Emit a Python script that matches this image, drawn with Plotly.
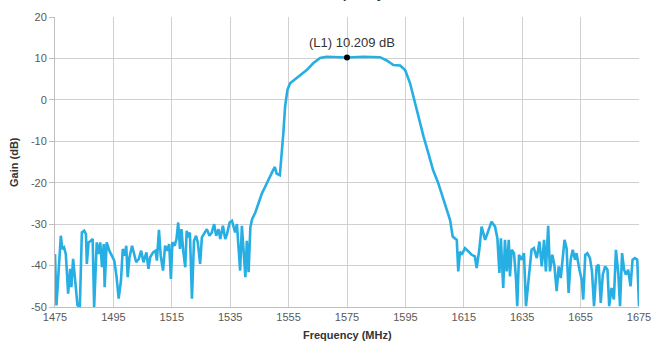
import plotly.graph_objects as go

# Frequency (MHz) and gain (dB)
freq = [
    1475.0, 1475.5, 1477.0, 1477.5, 1478.1, 1478.7, 1479.5, 1480.2, 1480.6, 1481.2,
    1481.9, 1482.7, 1483.5, 1484.2, 1485.0, 1485.6, 1485.9, 1486.5, 1487.3, 1487.9,
    1488.4, 1489.3, 1489.9, 1490.5, 1491.1, 1491.7, 1492.0, 1492.7, 1493.6, 1494.5,
    1495.3, 1496.1, 1496.8, 1497.6, 1498.2, 1498.9, 1499.4, 1499.9, 1500.5, 1501.4,
    1502.0, 1502.8, 1503.7, 1504.5, 1505.3, 1506.3, 1507.0, 1507.6, 1508.6, 1509.4,
    1509.9, 1510.6, 1511.2, 1512.0, 1512.7, 1513.4, 1514.1, 1514.7, 1515.2, 1516.0,
    1516.6, 1517.2, 1517.8, 1518.3, 1518.9, 1519.6, 1520.1, 1520.6, 1521.2, 1521.9,
    1522.6, 1523.3, 1523.9, 1524.7, 1525.3, 1526.0, 1527.0, 1527.9, 1528.7, 1529.5,
    1530.2, 1531.0, 1531.6, 1532.5, 1533.3, 1533.9, 1534.8, 1535.6, 1536.1, 1536.7,
    1537.3, 1537.9, 1538.4, 1539.0, 1539.6, 1540.2, 1540.7, 1541.3, 1541.9, 1542.5,
    1543.6, 1544.8, 1545.9, 1547.1, 1548.2, 1549.4, 1550.3, 1550.9, 1552.0, 1552.6,
    1553.2, 1553.8, 1554.6, 1555.5, 1557.2, 1558.9, 1561.2, 1563.5, 1565.8, 1568.0,
    1571.5, 1575.0, 1580.6, 1586.3, 1588.6, 1590.9, 1593.2, 1594.9, 1596.6, 1598.0,
    1599.6, 1601.2, 1602.9, 1604.5, 1606.2, 1607.9, 1609.1, 1610.3, 1611.2, 1612.0,
    1612.6, 1613.1, 1613.7, 1614.3, 1615.4, 1616.6, 1617.7, 1618.8, 1619.4, 1620.3,
    1621.1, 1622.3, 1623.4, 1624.5, 1625.7, 1626.5, 1627.2, 1627.7, 1628.5, 1629.1,
    1629.7, 1630.4, 1630.8, 1631.4, 1632.2, 1632.9, 1633.3, 1633.9, 1634.8, 1635.6,
    1636.3, 1637.1, 1638.2, 1639.0, 1640.0, 1640.9, 1641.7, 1642.5, 1643.1, 1643.9,
    1644.5, 1645.3, 1646.0, 1646.8, 1647.5, 1648.2, 1648.9, 1649.5, 1650.2, 1650.9,
    1651.6, 1652.3, 1653.1, 1653.6, 1654.6, 1655.4, 1655.9, 1656.6, 1657.3, 1658.2,
    1658.9, 1659.6, 1660.5, 1661.2, 1661.9, 1662.6, 1663.4, 1664.2, 1664.8, 1665.6,
    1666.4, 1667.1, 1667.9, 1668.5, 1669.2, 1669.9, 1670.5, 1671.3, 1672.1, 1672.8,
    1673.6, 1674.4, 1675.0,
]
gain = [
    -37.2, -49.6, -32.8, -36.0, -35.6, -37.2, -46.8, -40.8, -45.2, -38.4,
    -43.6, -49.6, -50.0, -32.0, -31.6, -32.4, -39.6, -34.4, -34.0, -33.6,
    -50.0, -34.4, -37.2, -34.4, -40.4, -34.8, -45.2, -34.4, -36.4, -37.6,
    -38.8, -42.8, -48.0, -43.6, -36.0, -37.6, -35.2, -42.8, -38.0, -35.2,
    -36.8, -39.2, -38.4, -36.4, -39.2, -36.8, -40.8, -38.0, -36.8, -36.4,
    -38.8, -31.4, -37.6, -41.2, -35.2, -36.4, -34.8, -43.2, -34.4, -35.2,
    -33.6, -29.6, -36.0, -31.2, -36.4, -40.4, -31.6, -33.2, -32.0, -48.0,
    -34.0, -32.8, -34.4, -39.6, -33.2, -32.4, -31.2, -32.8, -32.0, -30.0,
    -32.8, -31.2, -33.6, -30.4, -33.6, -32.4, -29.6, -29.2, -30.4, -32.0,
    -30.0, -35.6, -41.2, -30.4, -37.6, -42.8, -34.0, -41.6, -30.8, -28.8,
    -27.2, -24.8, -22.5, -20.8, -19.0, -17.4, -16.2, -17.8, -18.2, -13.7,
    -8.1, -1.6, 2.4, 4.0, 5.0, 5.8, 7.2, 8.9, 10.1, 10.4,
    10.3, 10.209, 10.4, 10.3, 9.5, 8.4, 8.3, 7.2, 4.0, 0.0,
    -4.5, -8.8, -13.0, -17.0, -20.0, -23.8, -26.6, -29.0, -33.0, -33.4,
    -33.8, -41.4, -36.6, -37.4, -35.8, -36.6, -37.4, -37.8, -40.6, -36.2,
    -30.6, -33.8, -31.8, -29.4, -30.6, -33.4, -41.8, -33.4, -45.4, -33.8,
    -41.4, -33.8, -42.6, -36.2, -37.0, -43.4, -49.8, -37.4, -38.6, -37.0,
    -49.8, -44.6, -36.2, -35.8, -38.2, -34.2, -40.2, -33.8, -41.4, -30.4,
    -41.4, -37.4, -39.8, -46.2, -40.2, -43.0, -37.4, -33.8, -35.8, -46.6,
    -38.6, -36.2, -38.6, -37.0, -41.0, -43.4, -48.2, -37.4, -37.0, -38.2,
    -41.4, -49.8, -40.2, -39.8, -49.0, -42.2, -40.2, -41.0, -49.8, -45.4,
    -48.2, -36.2, -41.8, -49.8, -37.0, -41.0, -42.2, -41.0, -45.0, -38.6,
    -38.2, -38.6, -49.8,
]

marker_freq = [1575]
marker_gain = [10.209]
marker_label = "(L1) 10.209 dB"

x_ticks = [1475, 1495, 1515, 1535, 1555, 1575, 1595, 1615, 1635, 1655, 1675]
y_ticks = [20, 10, 0, -10, -20, -30, -40, -50]

FONT = "Liberation Sans, Arial, sans-serif"
GRID = "#d0d0d0"
TICK = "#595959"

fig = go.Figure()
fig.add_trace(go.Scatter(
    x=freq, y=gain, mode="lines",
    line=dict(color="#27aee3", width=2.6),
    hoverinfo="skip", showlegend=False,
))
fig.add_trace(go.Scatter(
    x=marker_freq, y=marker_gain, mode="markers",
    marker=dict(color="black", size=6),
    showlegend=False, cliponaxis=False,
))

fig.update_layout(
    width=656, height=342,
    margin=dict(l=55, r=17, t=17, b=35, autoexpand=False),
    paper_bgcolor="white", plot_bgcolor="white",
    font=dict(family=FONT, size=11, color=TICK),
    xaxis=dict(
        range=[1475, 1675], tickvals=x_ticks, ticktext=[str(v) for v in x_ticks],
        showgrid=True, gridcolor=GRID, gridwidth=1,
        showline=True, linecolor="#bfbfbf", linewidth=1,
        zeroline=False, ticks="", tickfont=dict(size=11, color=TICK),
        fixedrange=True, automargin=False,
    ),
    yaxis=dict(
        range=[-50, 20], tickvals=y_ticks, ticktext=[str(v) for v in y_ticks],
        showgrid=True, gridcolor=GRID, gridwidth=1,
        showline=True, linecolor="#bfbfbf", linewidth=1,
        zeroline=False, ticks="outside", ticklen=5, tickcolor="#bfbfbf",
        tickfont=dict(size=11, color=TICK), fixedrange=True, automargin=False,
    ),
    annotations=[
        dict(text=marker_label, x=marker_freq[0], y=marker_gain[0],
             xref="x", yref="y", xanchor="center", yanchor="middle",
             xshift=5, yshift=15, showarrow=False,
             font=dict(family=FONT, size=13, color="#333333")),
        dict(text="<b>Frequency (MHz)</b>", xref="paper", yref="paper",
             x=0.5, y=0, xanchor="center", yanchor="middle", yshift=-28,
             showarrow=False, font=dict(family=FONT, size=11, color="#333333")),
        dict(text="<b>Gain (dB)</b>", xref="paper", yref="paper",
             x=0, y=0.5, xanchor="center", yanchor="middle", xshift=-41,
             textangle=-90, showarrow=False,
             font=dict(family=FONT, size=11, color="#333333")),
        dict(text="<b>Gain vs. Frequency</b>", xref="paper", yref="paper",
             x=0, y=1, xanchor="left", yanchor="bottom", xshift=207, yshift=14,
             showarrow=False, font=dict(family=FONT, size=13, color="#333333")),
    ],
)

fig.write_html("out.html", config={"displayModeBar": False, "staticPlot": True})
